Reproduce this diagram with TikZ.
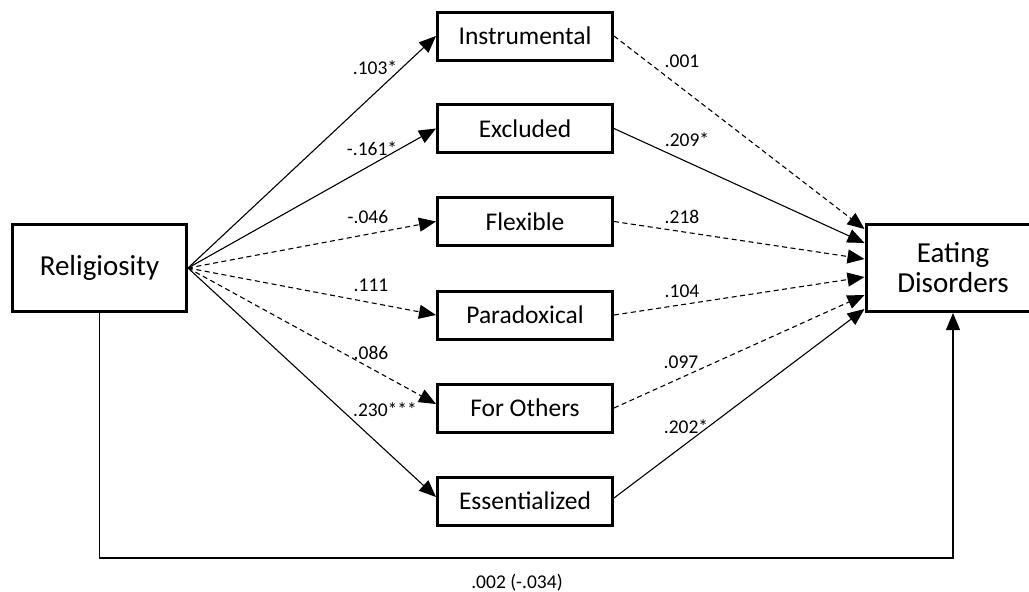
\documentclass[tikz,border=0pt]{standalone}
\usepackage{fontspec}
\setmainfont{Carlito}
\usetikzlibrary{arrows.meta,calc}
\tikzset{
  box/.style={draw, line width=3pt, inner sep=0pt, align=center},
  midbox/.style={box, minimum width=175pt, minimum height=48pt, font=\fontsize{25.5}{30}\selectfont},
  bigbox/.style={box, minimum width=174pt, minimum height=87pt, font=\fontsize{29}{30}\selectfont},
  arr/.style={line width=1.1pt, -{Triangle[length=17pt,width=14pt]}},
  dsh/.style={arr, dash pattern=on 5pt off 3.5pt},
  lab/.style={font=\fontsize{19.5}{22}\selectfont, inner sep=0pt}
}
\begin{document}
\begin{tikzpicture}[x=1pt,y=-1pt]
\useasboundingbox (0,0) rectangle (1029,592);
\clip (0,0) rectangle (1029,592);

\node[bigbox] (rel) at (99.5,268) {Religiosity};
\node[bigbox] (ed) at (953,268) {Eating\\Disorders};

\node[midbox] (ins) at (525,36) {Instrumental};
\node[midbox] (exc) at (525,128.5) {Excluded};
\node[midbox] (fle) at (525,221.5) {Flexible};
\node[midbox] (par) at (525,315) {Paradoxical};
\node[midbox] (for) at (525,408) {For Others};
\node[midbox] (ess) at (525,501) {Essentialized};

% targets on the Eating Disorders box
\coordinate (t1) at ($(ed.west)+(0,-39)$);
\coordinate (t2) at ($(ed.west)+(0,-25)$);
\coordinate (t3) at ($(ed.west)+(0,-9)$);
\coordinate (t4) at ($(ed.west)+(0,9)$);
\coordinate (t5) at ($(ed.west)+(0,27)$);
\coordinate (t6) at ($(ed.west)+(0,41)$);

% Religiosity -> mediators
\draw[arr] (rel.east) -- (ins.west);
\draw[arr] (rel.east) -- (exc.west);
\draw[dsh] (rel.east) -- (fle.west);
\draw[dsh] (rel.east) -- (par.west);
\draw[dsh] (rel.east) -- ($(for.west)+(0,-4)$);
\draw[arr] (rel.east) -- ($(ess.west)+(0,-4)$);

% mediators -> Eating Disorders
\draw[dsh] (ins.east) -- (t1);
\draw[arr] (exc.east) -- (t2);
\draw[dsh] (fle.east) -- (t3);
\draw[dsh] (par.east) -- (t4);
\draw[dsh] (for.east) -- (t5);
\draw[arr] ($(ess.east)+(0,-3)$) -- (t6);

% direct path
\coordinate (low) at (0,558);
\draw[arr] (rel.south) -- (rel.south |- low) -| (ed.south);

% labels
\node[lab] (l1) at (375,68) {.103*};
\node[lab] (l2) at (372,149) {-.161*};
\node[lab] (l3) at (368,217) {-.046};
\node[lab] (l4) at (371,285) {.111};
\node[lab] (l5) at (371,353) {.086};
\node[lab] (l6) at (385,410) {.230***};
\node[lab] (r1) at (682,61) {.001};
\node[lab] (r2) at (687,140) {.209*};
\node[lab] (r3) at (682,217) {.218};
\node[lab] (r4) at (682,291) {.104};
\node[lab] (r5) at (681,362) {.097};
\node[lab] (r6) at (686,427) {.202*};
\node[lab] (d1) at (517,583) {.002 (-.034)};
\end{tikzpicture}
\end{document}
